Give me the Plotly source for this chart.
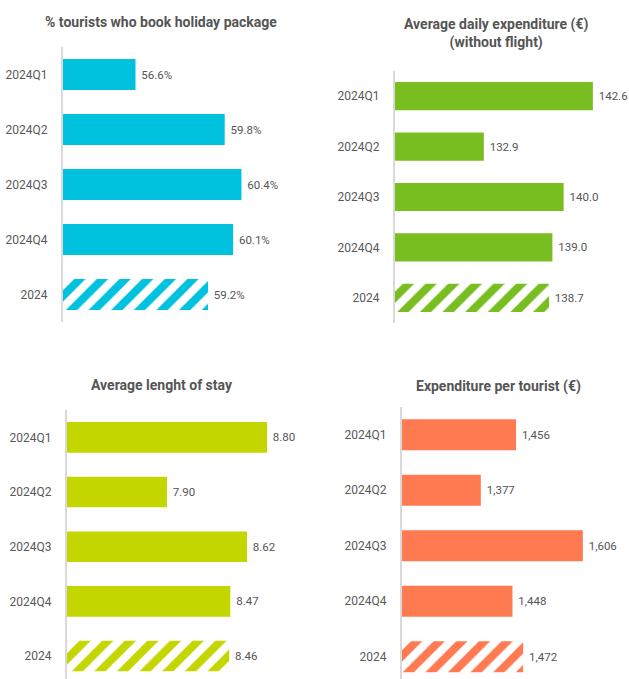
import plotly.graph_objects as go

categories = ["2024Q1", "2024Q2", "2024Q3", "2024Q4", "2024"]
pct_package = [56.6, 59.8, 60.4, 60.1, 59.2]
daily_exp = [142.6, 132.9, 140.0, 139.0, 138.7]
stay_len = [8.80, 7.90, 8.62, 8.47, 8.46]
exp_tourist = [1456, 1377, 1606, 1448, 1472]

titles = ["% tourists who book holiday package",
          "Average daily expenditure (€)<br>(without flight)",
          "Average lenght of stay",
          "Expenditure per tourist (€)"]

W, H = 629, 679
FONT = "Roboto, Lato, sans-serif"
NB = "\u00a0"

panels = [
    dict(vals=pct_package, color="#00C1DE", fmt="%{x:.1f}%", xr=[54, 62.5], xd=[63, 300], yd=[47, 322], yr=[4.5, -0.5]),
    dict(vals=daily_exp, color="#78BE20", fmt="%{x:.1f}", xr=[125, 145.28], xd=[395, 623], yd=[71, 323], yr=[4.5, -0.5]),
    dict(vals=stay_len, color="#C4D600", fmt="%{x:.2f}", xr=[7, 9.097], xd=[67, 300], yd=[410, 679], yr=[4.42, -0.5]),
    dict(vals=exp_tourist, color="#FF7A51", fmt="%{x:,.0f}", xr=[1200, 1709.6], xd=[402, 629], yd=[407, 679], yr=[4.4, -0.5]),
]

fig = go.Figure()
layout = {}
for i, p in enumerate(panels):
    n = "" if i == 0 else str(i + 1)
    c = p["color"]
    fig.add_trace(go.Bar(
        y=categories, x=p["vals"], orientation="h",
        xaxis="x" + n, yaxis="y" + n,
        width=0.56,
        marker=dict(color=c, line=dict(width=0),
                    pattern=dict(shape=["", "", "", "", "/"],
                                 fgcolor=[c] * 5,
                                 bgcolor=[c, c, c, c, "white"],
                                 fgopacity=1,
                                 size=16, solidity=0.5)),
        texttemplate=NB + p["fmt"], textposition="outside",
        textfont=dict(family=FONT, size=11.5, color="#555555"),
        cliponaxis=False, showlegend=False, hoverinfo="skip",
    ))
    layout["xaxis" + n] = dict(domain=[p["xd"][0] / W, p["xd"][1] / W], range=p["xr"],
                               visible=False, anchor="y" + n, fixedrange=True, automargin=False)
    layout["yaxis" + n] = dict(domain=[1 - p["yd"][1] / H, 1 - p["yd"][0] / H], range=p["yr"],
                               anchor="x" + n, showline=True, linecolor="#D9D9D9", linewidth=2,
                               showgrid=False, zeroline=False, ticks="", automargin=False,
                               fixedrange=True, ticklabelstandoff=11,
                               tickfont=dict(family=FONT, size=12, color="#595959"))

title_pos = [(161, 22), (496, 33), (162, 385), (498, 386)]
annotations = []
for t, (x, y) in zip(titles, title_pos):
    annotations.append(dict(text="<b>" + t + "</b>", x=x / W, y=1 - y / H, xref="paper", yref="paper",
                            showarrow=False, xanchor="center", yanchor="middle",
                            font=dict(family=FONT, size=14, color="#555555")))

fig.update_layout(**layout)
fig.update_layout(width=W, height=H, margin=dict(l=0, r=0, t=0, b=0, autoexpand=False),
                  paper_bgcolor="white", plot_bgcolor="white",
                  annotations=annotations, bargap=0.44)
fig.write_html("out.html", config={"displayModeBar": False},
               post_script="document.body.style.margin='0';document.body.style.padding='0';document.body.style.overflow='hidden';")
